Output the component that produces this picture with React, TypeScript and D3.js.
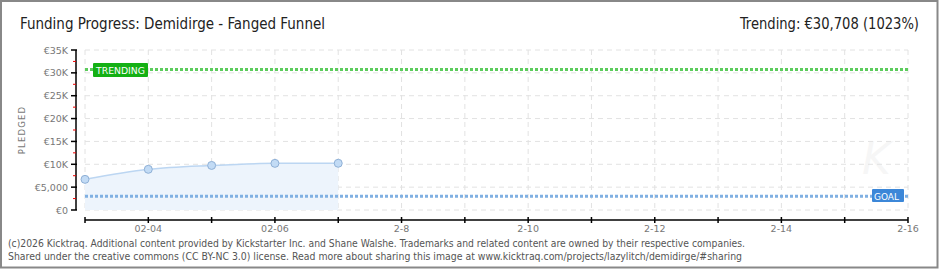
import React from "react";
import * as d3 from "d3";

const dates = ["02-03", "02-04", "02-05", "02-06", "02-07"];
const pledged = [6700, 8900, 9750, 10200, 10220];
const axisDays = ["02-03", "02-04", "02-05", "02-06", "02-07", "02-08", "02-09", "02-10", "02-11", "02-12", "02-13", "02-14", "02-15", "02-16"];
const axisLabels = ["", "02-04", "", "02-06", "", "2-8", "", "2-10", "", "2-12", "", "2-14", "", "2-16"];
const yTicks = [0, 5000, 10000, 15000, 20000, 25000, 30000, 35000];
const yTickLabels = ["€0", "€5,000", "€10K", "€15K", "€20K", "€25K", "€30K", "€35K"];
const goal = 3000;
const trending = 30708;
const title = "Funding Progress: Demidirge - Fanged Funnel";
const trendText = "Trending:  €30,708 (1023%)";
const footer1 = "(c)2026 Kicktraq. Additional content provided by Kickstarter Inc. and Shane Walshe. Trademarks and related content are owned by their respective companies.";
const footer2 = "Shared under the creative commons (CC BY-NC 3.0) license. Read more about sharing this image at www.kicktraq.com/projects/lazylitch/demidirge/#sharing";

export default function App() {
  const x = d3.scalePoint<string>().domain(axisDays).range([85, 908]);
  const y = d3.scaleLinear().domain([0, 35000]).range([210, 50]);
  const minor = d3.range(2500, 35000, 5000);
  const pts = dates.map((d, i) => [x(d) as number, y(pledged[i])] as [number, number]);
  const line = d3.line().curve(d3.curveMonotoneX)(pts) as string;
  const area = d3.area<[number, number]>().x(p => p[0]).y0(y(0)).y1(p => p[1]).curve(d3.curveMonotoneX)(pts) as string;
  const tickFont = "'DejaVu Sans', sans-serif";
  const titleFont = "'Liberation Sans Narrow', 'DejaVu Sans Condensed', sans-serif";
  return (
    <svg width={940} height={270} style={{ position: "absolute", left: 0, top: 0 }}>
      <rect x={0} y={0} width={940} height={270} fill="#fff" />
      <rect x={1} y={1} width={936.5} height={266.5} fill="none" stroke="#888" strokeWidth={2} />
      <text x={20} y={29} fontFamily={titleFont} fontSize={16} fill="#222" textLength={305} lengthAdjust="spacingAndGlyphs">{title}</text>
      <text x={919} y={29} textAnchor="end" fontFamily={titleFont} fontSize={16} fill="#222" textLength={179} lengthAdjust="spacingAndGlyphs">{trendText}</text>
      <text x={862} y={174} fontFamily="'DejaVu Sans', sans-serif" fontStyle="italic" fontSize={44} fill="#000" opacity={0.03}>K</text>
      {/* grid */}
      {yTicks.map(v => (
        <line key={"gy" + v} x1={85} x2={908} y1={y(v)} y2={y(v)} stroke="#e2e2e2" strokeDasharray="5,4" />
      ))}
      {axisDays.map(d => (
        <line key={"gx" + d} x1={x(d)} x2={x(d)} y1={50} y2={210} stroke="#e2e2e2" strokeDasharray="5,4" />
      ))}
      {/* area & line */}
      <path d={area} fill="#edf4fc" />
      <path d={line} fill="none" stroke="#bcd6f2" strokeWidth={1.5} />
      {/* goal & trending lines */}
      <line x1={85} x2={908} y1={y(goal)} y2={y(goal)} stroke="#80b0e2" strokeWidth={3} strokeDasharray="3,2" />
      <line x1={85} x2={908} y1={y(trending)} y2={y(trending)} stroke="#5ccc5c" strokeWidth={3} strokeDasharray="3,2" />
      {pts.map((p, i) => (
        <circle key={"pt" + i} cx={p[0]} cy={p[1]} r={4} fill="#c2dbf5" stroke="#8fb0d6" strokeWidth={1} />
      ))}
      {/* trending label */}
      <rect x={93} y={63} width={55} height={14} fill="#14b014" rx={1} />
      <text x={96} y={74} fontFamily={tickFont} fontSize={9.5} fill="#fff" textLength={49} lengthAdjust="spacingAndGlyphs">TRENDING</text>
      {/* goal label */}
      <rect x={872} y={189} width={32} height={13} fill="#3c87d8" rx={1} />
      <text x={874} y={199.5} fontFamily={tickFont} fontSize={9.5} fill="#fff" textLength={25} lengthAdjust="spacingAndGlyphs">GOAL</text>
      {/* y axis */}
      <line x1={76} x2={76} y1={50} y2={210} stroke="#000" strokeWidth={1.5} />
      {yTicks.map((v, i) => (
        <g key={"yt" + v}>
          <line x1={71} x2={77} y1={y(v)} y2={y(v)} stroke="#000" strokeWidth={1.5} />
          <text x={68} y={y(v) + 3.5} textAnchor="end" fontFamily={tickFont} fontSize={9.5} fill="#777">{yTickLabels[i]}</text>
        </g>
      ))}
      {minor.map(v => (
        <line key={"mn" + v} x1={73} x2={76} y1={y(v)} y2={y(v)} stroke="#e00" strokeWidth={1} />
      ))}
      <text transform="translate(25,130) rotate(-90)" textAnchor="middle" fontFamily={tickFont} fontSize={8.5} fill="#777" letterSpacing={1.2}>PLEDGED</text>
      {/* x axis */}
      <line x1={85} x2={908} y1={220} y2={220} stroke="#000" strokeWidth={1.5} />
      {axisDays.map((d, i) => (
        <g key={"xt" + d}>
          <line x1={x(d)} x2={x(d)} y1={217} y2={223} stroke="#000" strokeWidth={1.5} />
          <text x={x(d)} y={232} textAnchor="middle" fontFamily={tickFont} fontSize={9.5} fill="#777">{axisLabels[i]}</text>
        </g>
      ))}
      {/* footer */}
      <text x={8} y={247} fontFamily="Tahoma, 'DejaVu Sans', sans-serif" fontSize={10} fill="#555" textLength={737} lengthAdjust="spacingAndGlyphs">{footer1}</text>
      <text x={8} y={259.5} fontFamily="Tahoma, 'DejaVu Sans', sans-serif" fontSize={10} fill="#555" textLength={734} lengthAdjust="spacingAndGlyphs">{footer2}</text>
    </svg>
  );
}
